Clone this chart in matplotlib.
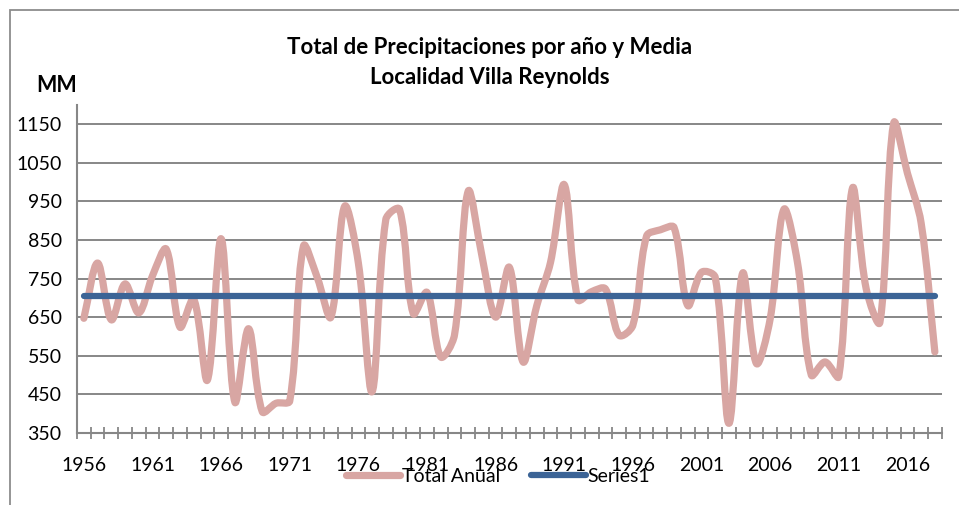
import numpy as np
import matplotlib
matplotlib.use("Agg")
import matplotlib.pyplot as plt
from matplotlib.path import Path
from matplotlib.patches import PathPatch, Rectangle
from matplotlib.lines import Line2D

plt.rcParams['font.family'] = ['Lato', 'DejaVu Sans']

# datos
anios = list(range(1956, 2019))
total_anual = [647, 790, 643, 736, 661, 757, 826, 624, 697, 487,
               853, 430, 620, 405, 427, 433, 834, 753, 650, 937,
               790, 457, 903, 929, 659, 714, 547, 603, 976, 809,
               650, 779, 534, 680, 792, 993, 695, 716, 723, 603,
               629, 860, 876, 882, 680, 766, 753, 375, 764, 530,
               645, 929, 790, 500, 534, 496, 984, 723, 637, 1152,
               1023, 894, 560]
media = [706] * len(anios)

rosa = '#D8A6A3'
azul = '#3C6496'
gris = '#878787'
fs = 14

# escala aproximada en pixeles (para el suavizado tipo excel)
px_x = 13.73
px_y = 0.387


def curva_suave(x, y, f=1/3):
    # bezier como el "linea suavizada" de excel: brazos segun largo de cada tramo
    n = len(x)
    x = np.asarray(x, float)
    y = np.asarray(y, float)
    c_in = [None] * n
    c_out = [None] * n
    for i in range(n):
        i0 = max(i - 1, 0)
        i2 = min(i + 1, n - 1)
        tx, ty = x[i2] - x[i0], y[i2] - y[i0]
        d01 = np.hypot((x[i] - x[i0]) * px_x, (y[i] - y[i0]) * px_y)
        d12 = np.hypot((x[i2] - x[i]) * px_x, (y[i2] - y[i]) * px_y)
        s = d01 + d12
        a_in = f * d01 / s if s else 0
        a_out = f * d12 / s if s else 0
        c_in[i] = (x[i] - tx * a_in, y[i] - ty * a_in)
        c_out[i] = (x[i] + tx * a_out, y[i] + ty * a_out)
    verts = [(x[0], y[0])]
    codes = [Path.MOVETO]
    for i in range(n - 1):
        verts += [c_out[i], c_in[i + 1], (x[i + 1], y[i + 1])]
        codes += [Path.CURVE4] * 3
    return Path(verts, codes)


fig = plt.figure(figsize=(9.59, 5.05), dpi=100)
ax = fig.add_axes([77/959, 1 - 433/505, (941.7 - 77)/959, (433 - 104.7)/505])

xs = np.arange(len(anios))
ax.add_patch(PathPatch(curva_suave(xs, total_anual), facecolor='none', edgecolor=rosa,
                       lw=5.2, capstyle='round', joinstyle='round', zorder=3))
ax.plot(xs, media, color=azul, lw=4.5, solid_capstyle='round', zorder=4)

ax.set_xlim(-0.5, len(anios) - 0.5)
ax.set_ylim(350, 1200)
ax.set_yticks(np.arange(350, 1151, 100))
ax.set_xticks(xs[::5])
ax.set_xticklabels([str(a) for a in anios[::5]])
ax.set_xticks(np.arange(-0.5, len(anios), 1), minor=True)

ax.grid(axis='y', color=gris, lw=1.4, zorder=1)
ax.set_axisbelow(True)
for s in ['top', 'right']:
    ax.spines[s].set_visible(False)
for s in ['left', 'bottom']:
    ax.spines[s].set_color(gris)
    ax.spines[s].set_linewidth(1.5)

ax.tick_params(axis='y', length=0, pad=11, labelsize=fs)
ax.tick_params(axis='x', which='major', length=0, pad=17, labelsize=fs)
ax.tick_params(axis='x', which='minor', length=9, width=1.3, color=gris, direction='inout')

fig.text(0.511, 1 - 47/505, 'Total de Precipitaciones por año y Media', ha='center', va='center',
         fontsize=16, fontweight='bold')
fig.text(0.511, 1 - 78/505, 'Localidad Villa Reynolds', ha='center', va='center',
         fontsize=16, fontweight='bold')
fig.text(57/959, 1 - 85/505, 'MM', ha='center', va='center', fontsize=15.5, fontweight='bold')

handles = [Line2D([], [], color=rosa, lw=5.2, solid_capstyle='round'),
           Line2D([], [], color=azul, lw=4.5, solid_capstyle='round')]
fig.legend(handles, ['Total Anual', 'Series1'], loc='center', bbox_to_anchor=(498/959, 1 - 476/505),
           ncol=2, frameon=False, fontsize=fs, handlelength=2.8, handletextpad=0.1,
           columnspacing=1.6, borderpad=0)

fig.add_artist(Rectangle((10/959, -0.1), 1.2, (505 - 10)/505 + 0.1, transform=fig.transFigure,
                         facecolor='none', edgecolor='#8c8c8c', lw=1.3))

fig.savefig('out.png', dpi=100)
